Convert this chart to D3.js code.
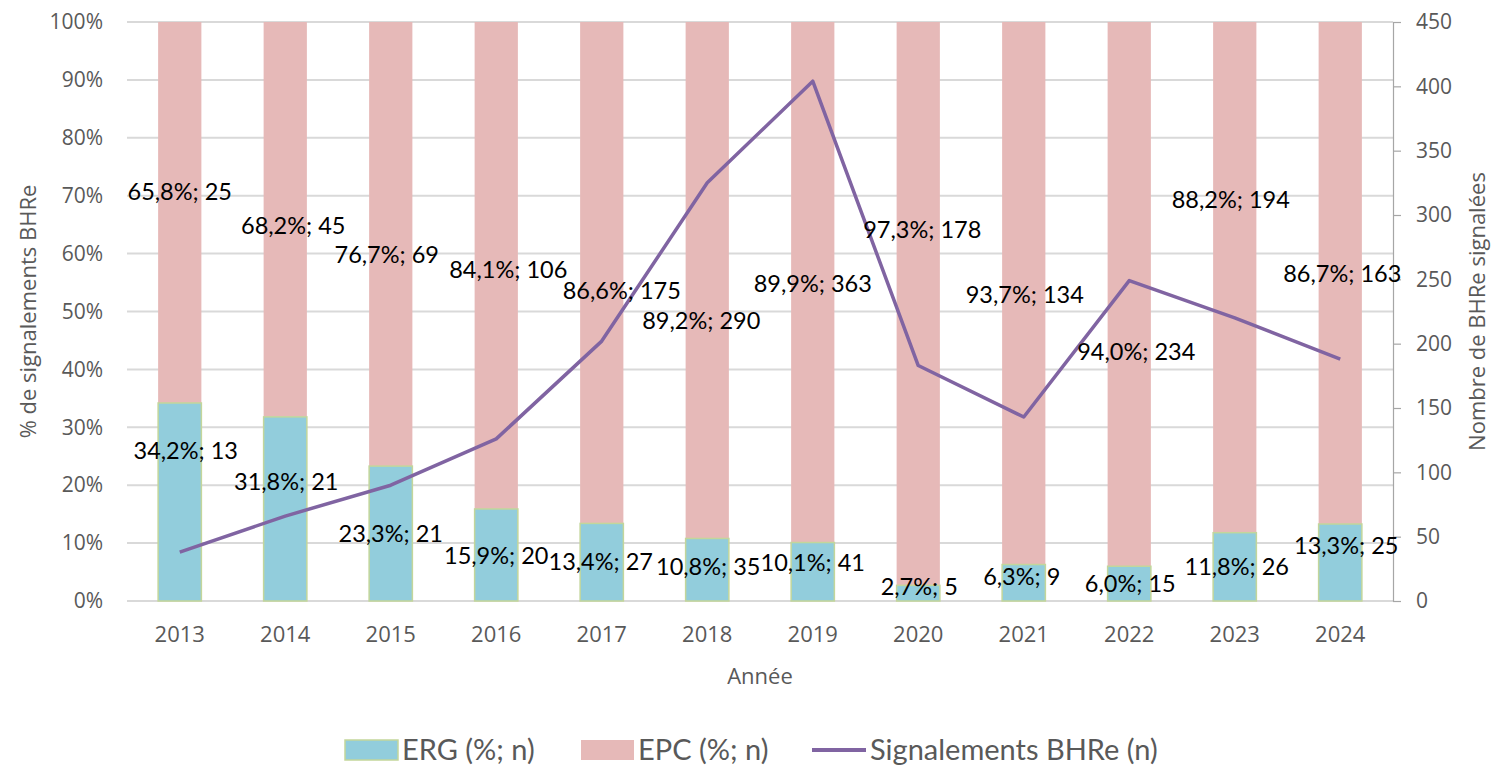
<!DOCTYPE html>
<html>
<head>
<meta charset="utf-8">
<script src="https://cdn.jsdelivr.net/npm/d3@7"></script>
<style>
    body { margin: 0; background: #ffffff; }
</style>
</head>
<body>
<div id="chart"></div>
<script>
// data
const years = ['2013', '2014', '2015', '2016', '2017', '2018', '2019', '2020', '2021', '2022', '2023', '2024'];
const ergPct = [34.2, 31.8, 23.3, 15.9, 13.4, 10.8, 10.1, 2.7, 6.3, 6.0, 11.8, 13.3];
const ergN = [13, 21, 21, 20, 27, 35, 41, 5, 9, 15, 26, 25];
const epcPct = [65.8, 68.2, 76.7, 84.1, 86.6, 89.2, 89.9, 97.3, 93.7, 94.0, 88.2, 86.7];
const epcN = [25, 45, 69, 106, 175, 290, 363, 178, 134, 234, 194, 163];
const signalements = [38, 66, 90, 126, 202, 325, 404, 183, 143, 249, 220, 188];
const pctTicks = [0, 10, 20, 30, 40, 50, 60, 70, 80, 90, 100];
const nTicks = [0, 50, 100, 150, 200, 250, 300, 350, 400, 450];

// where the data labels were dragged to (y in % units, x shift in px)
const epcLabelY = [70.8, 64.8, 59.9, 57.3, 53.6, 48.5, 54.9, 64.1, 52.9, 43.0, 69.4, 56.5];
const epcLabelDx = [0, 8, -4, 12, 20, -6, 0, 4, 1, 7, -4, 2];
const ergLabelY = [25.9, 20.6, 11.6, 7.9, 6.9, 6.0, 6.6, 2.5, 4.3, 3.1, 5.9, 9.5];
const ergLabelDx = [6, 1, 0, 0, -1, 1, 0, 1, -2, 1, 2, 6];

const width = 1499;
const height = 774;
const plot = {left: 127, right: 1393, top: 22, bottom: 601};

const colErg = '#92cddc';
const colErgStroke = '#c3d69b';
const colEpc = '#e6b9b8';
const colLine = '#8064a2';
const colGrid = '#d9d9d9';
const colText = '#595959';
const fontAxis = "'Open Sans', sans-serif";
const fontLabel = "Lato, sans-serif";

const fr = (v) => v.toFixed(1).replace('.', ',');

let svg = d3.select('#chart')
    .append('svg')
    .attr('width', width)
    .attr('height', height)
;

let x = d3.scaleBand()
    .domain(years)
    .range([plot.left, plot.right])
    .padding(0)
;
let yPct = d3.scaleLinear()
    .domain([0, 100])
    .range([plot.bottom, plot.top])
;
let yN = d3.scaleLinear()
    .domain([0, 450])
    .range([plot.bottom, plot.top])
;
let barW = x.bandwidth() * 0.41;
let cx = (d) => x(d) + x.bandwidth() / 2;

// gridlines
svg.append('g')
    .selectAll('line')
    .data(pctTicks)
    .enter()
    .append('line')
    .attr('x1', plot.left)
    .attr('x2', plot.right)
    .attr('y1', d => yPct(d))
    .attr('y2', d => yPct(d))
    .style('stroke', colGrid)
    .style('stroke-width', 2)
;

// left axis labels
let leftAxis = svg.append('g')
    .attr('transform', `translate(${plot.left - 24}, 0)`)
    .call(d3.axisLeft(yPct).tickValues(pctTicks).tickSize(0).tickPadding(0).tickFormat(d => d + '%'))
;
leftAxis.select('.domain').remove();
leftAxis.selectAll('text')
    .style('font-family', fontAxis)
    .style('font-size', '21px')
    .style('fill', colText)
;

// right axis
let rightAxis = svg.append('g')
    .attr('transform', `translate(${plot.right}, 0)`)
    .call(d3.axisRight(yN).tickValues(nTicks).tickSize(8).tickSizeOuter(0).tickPadding(15))
;
rightAxis.select('.domain').style('stroke', '#a6a6a6').style('stroke-width', 1.2);
rightAxis.selectAll('.tick line').style('stroke', '#a6a6a6').style('stroke-width', 1.2);
rightAxis.selectAll('text')
    .style('font-family', fontAxis)
    .style('font-size', '21px')
    .style('fill', colText)
;

// x axis labels
let bottomAxis = svg.append('g')
    .attr('transform', `translate(0, ${plot.bottom})`)
    .call(d3.axisBottom(x).tickSize(0).tickPadding(25))
;
bottomAxis.select('.domain').remove();
bottomAxis.selectAll('text')
    .style('font-family', fontAxis)
    .style('font-size', '22px')
    .style('fill', colText)
;

// stacked bars: EPC on top, ERG at the bottom
svg.append('g')
    .selectAll('rect')
    .data(years)
    .enter()
    .append('rect')
    .attr('x', d => cx(d) - barW / 2)
    .attr('width', barW)
    .attr('y', (d, i) => yPct(ergPct[i] + epcPct[i]))
    .attr('height', (d, i) => yPct(ergPct[i]) - yPct(ergPct[i] + epcPct[i]))
    .style('fill', colEpc)
;
svg.append('g')
    .selectAll('rect')
    .data(years)
    .enter()
    .append('rect')
    .attr('x', d => cx(d) - barW / 2)
    .attr('width', barW)
    .attr('y', (d, i) => yPct(ergPct[i]))
    .attr('height', (d, i) => yPct(0) - yPct(ergPct[i]))
    .style('fill', colErg)
    .style('stroke', colErgStroke)
    .style('stroke-width', 1.5)
;

// line for number of signalements
let line = d3.line()
    .x((d, i) => cx(years[i]))
    .y(d => yN(d))
;
svg.append('path')
    .datum(signalements)
    .attr('d', line)
    .style('fill', 'none')
    .style('stroke', colLine)
    .style('stroke-width', 3.5)
    .style('stroke-linejoin', 'round')
;

// data labels
svg.append('g')
    .selectAll('text')
    .data(years)
    .enter()
    .append('text')
    .attr('x', (d, i) => cx(d) + epcLabelDx[i])
    .attr('y', (d, i) => yPct(epcLabelY[i]))
    .attr('dy', '0.36em')
    .attr('text-anchor', 'middle')
    .style('font-family', fontLabel)
    .style('font-size', '23.5px')
    .style('fill', '#000000')
    .text((d, i) => fr(epcPct[i]) + '%; ' + epcN[i])
;
svg.append('g')
    .selectAll('text')
    .data(years)
    .enter()
    .append('text')
    .attr('x', (d, i) => cx(d) + ergLabelDx[i])
    .attr('y', (d, i) => yPct(ergLabelY[i]))
    .attr('dy', '0.36em')
    .attr('text-anchor', 'middle')
    .style('font-family', fontLabel)
    .style('font-size', '23.5px')
    .style('fill', '#000000')
    .text((d, i) => fr(ergPct[i]) + '%; ' + ergN[i])
;

// axis titles
svg.append('text')
    .attr('transform', `translate(28, ${(plot.top + plot.bottom) / 2}) rotate(-90)`)
    .attr('dy', '0.35em')
    .attr('text-anchor', 'middle')
    .style('font-family', fontAxis)
    .style('font-size', '22px')
    .style('fill', colText)
    .text('% de signalements BHRe')
;
svg.append('text')
    .attr('transform', `translate(1477, ${(plot.top + plot.bottom) / 2}) rotate(-90)`)
    .attr('dy', '0.35em')
    .attr('text-anchor', 'middle')
    .style('font-family', fontAxis)
    .style('font-size', '22px')
    .style('fill', colText)
    .text('Nombre de BHRe signalées')
;
svg.append('text')
    .attr('x', (plot.left + plot.right) / 2)
    .attr('y', 676)
    .attr('dy', '0.35em')
    .attr('text-anchor', 'middle')
    .style('font-family', fontAxis)
    .style('font-size', '22px')
    .style('fill', colText)
    .text('Année')
;

// legend
let legend = svg.append('g').attr('transform', 'translate(0, 750)');
legend.append('rect')
    .attr('x', 345).attr('y', -10).attr('width', 53).attr('height', 20)
    .style('fill', colErg).style('stroke', colErgStroke).style('stroke-width', 1.5)
;
legend.append('rect')
    .attr('x', 581).attr('y', -10).attr('width', 53).attr('height', 20)
    .style('fill', colEpc)
;
legend.append('line')
    .attr('x1', 812).attr('x2', 866).attr('y1', 0).attr('y2', 0)
    .style('stroke', colLine).style('stroke-width', 4)
;
let legendItems = [
    {x: 402, label: 'ERG (%; n)'},
    {x: 638, label: 'EPC (%; n)'},
    {x: 870, label: 'Signalements BHRe (n)'}
];
legend.selectAll('text')
    .data(legendItems)
    .enter()
    .append('text')
    .attr('x', d => d.x)
    .attr('dy', '0.36em')
    .style('font-family', fontLabel)
    .style('font-size', '29px')
    .style('fill', colText)
    .text(d => d.label)
;
</script>
</body>
</html>
